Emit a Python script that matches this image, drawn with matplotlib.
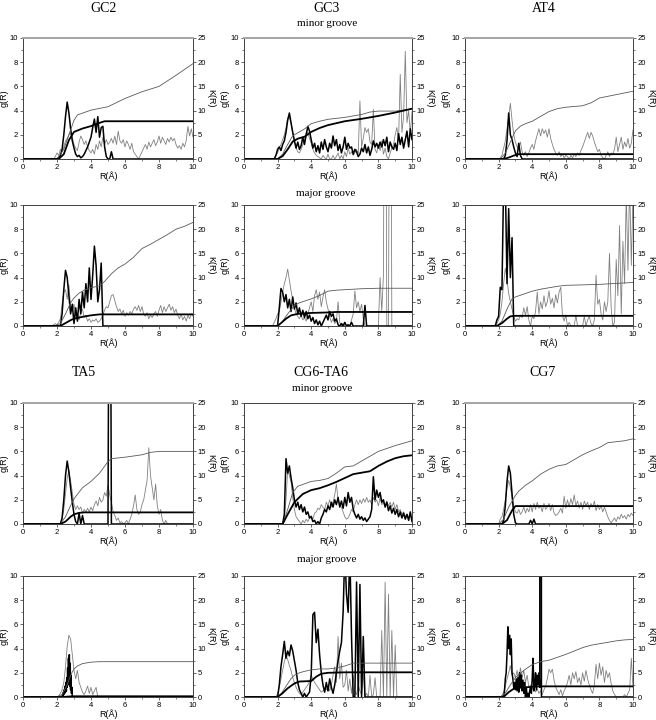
import numpy as np
import matplotlib
matplotlib.use('Agg')
import matplotlib.pyplot as plt
from matplotlib.ticker import MultipleLocator

plt.rcParams['font.family'] = ['Liberation Sans', 'DejaVu Sans']

#--------------------------------- data ---------------------------------------
# g(R) curves: (first R, step, values) ; K(R) curves: (R list, K list)

# GC2 minor groove
gc2_min_gb = (2.0, 0.1, [0, 0.1, 0.3, 0.8, 2.0, 3.5, 4.7, 3.8, 2.5, 1.5,
                         0.9, 0.4, 0.2, 0.3, 0.1, 0.2, 0.4, 0.7, 1.0, 1.4,
                         1.8, 2.6, 3.3, 2.2, 3.5, 1.8, 2.6, 2.7, 1.0, 0.2,
                         0, 0, 0.6, 0])
gc2_min_gg = (1.8, 0.1, [0, 0.2, 0.5, 0.3, 0.8, 0.6, 1.0, 1.5, 1.7, 2.0,
                         2.1, 1.8, 1.2, 0.9, 0.7, 1.4, 1.9, 1.6, 1.2, 1.5,
                         1.0, 0.7, 0.5, 0.8, 0.4, 1.2, 0.8, 1.5, 1.0, 1.8,
                         1.2, 1.6, 1.2, 1.4, 1.7, 1.3, 1.9, 1.2, 2.3, 1.5,
                         1.3, 1.6, 1.0, 1.5, 1.2, 0.8, 1.3, 0.6, 0.4, 0.2,
                         0.0, 0.3, 0.6, 0.9, 1.2, 0.8, 1.4, 1.0, 1.3, 1.6,
                         1.1, 1.4, 1.9, 1.3, 1.8, 1.5, 1.2, 1.7, 1.4, 1.8,
                         1.5, 1.7, 1.2, 0.9, 1.1, 0.8, 1.3, 1.0, 1.5, 2.7,
                         1.9, 2.5, 1.8])
gc2_min_kb = ([2.1, 2.4, 2.7, 3.0, 3.5, 4.0, 4.4, 4.8, 10.0],
              [0, 1.0, 3.9, 5.6, 6.3, 6.8, 7.35, 7.8, 7.8])
gc2_min_kg = ([2.0, 2.4, 2.7, 3.0, 3.2, 4.0, 5.0, 6.0, 7.0, 8.0, 9.0, 10.0],
              [0, 2.0, 5.0, 8.0, 9.1, 10.1, 10.8, 12.5, 13.9, 15.0, 17.3, 19.7])

# GC3 minor groove
gc3_min_gb = (1.8, 0.1, [0, 0.3, 0.8, 1.0, 0.7, 1.2, 1.5, 2.2, 3.2, 3.8,
                         3.0, 2.2, 1.5, 0.9, 1.4, 0.8, 1.1, 1.8, 1.2, 2.0,
                         2.7, 2.3, 1.6, 0.9, 1.3, 0.6, 1.1, 0.5, 1.4, 0.8,
                         1.6, 1.0, 0.6, 1.3, 0.9, 1.9, 1.1, 1.6, 0.7, 1.2,
                         0.5, 1.0, 1.8, 0.8, 1.3, 0.9, 1.0, 0.4, 0.8, 0.6,
                         0.2, 0.4, 0.9, 0.6, 1.2, 0.5, 1.0, 0.3, 0.8, 1.5,
                         1.0, 1.3, 0.9, 1.4, 1.0, 1.6, 1.1, 1.8, 0.6, 1.4,
                         1.0, 0.8, 1.3, 0.7, 2.1, 1.2, 1.8, 0.9, 1.6, 2.3,
                         1.0, 2.5, 1.6])
gc3_min_gg = (1.8, 0.1, [0, 0.3, 0.5, 0.9, 1.2, 1.6, 2.0, 2.6, 3.4, 3.5,
                         2.9, 2.2, 1.5, 0.9, 0.6, 0.5, 0.8, 1.2, 1.6, 2.1,
                         2.2, 1.7, 1.3, 0.8, 0.5, 0.3, 0.2, 0.1, 0.0, 0.3,
                         0.1, 0.0, 0.4, 0.0, 0.0, 0.3, 0.0, 0.2, 0.5, 0.0,
                         0.3, 0.0, 0.6, 0.2, 0.9, 0.4, 0.6, 0.3, 0.5, 0.8,
                         0.4, 4.8, 1.0, 1.7, 2.6, 2.2, 2.5, 1.4, 1.2, 4.1,
                         0.8, 0.5, 1.2, 0.7, 1.5, 0.4, 0.9, 0.2, 0.0, 0.5,
                         0.9, 1.2, 2.0, 2.6, 1.5, 7.0, 2.2, 3.5, 8.9, 3.0,
                         4.0, 2.1, 3.9])
gc3_min_kb = ([2.0, 2.3, 2.6, 2.9, 3.2, 3.6, 4.0, 4.5, 5.0, 6.0, 7.0, 8.0, 9.0, 10.0],
              [0, 0.6, 2.0, 3.6, 4.2, 4.6, 5.6, 6.4, 7.0, 7.8, 8.3, 8.9, 9.6, 10.4])
gc3_min_kg = ([2.0, 2.3, 2.6, 2.9, 3.2, 3.6, 4.0, 4.5, 5.0, 6.0, 7.0, 7.5, 8.0, 9.0, 10.0],
              [0, 1.0, 3.0, 4.8, 5.4, 6.2, 7.3, 7.8, 8.2, 8.6, 9.2, 9.7, 9.9, 9.9, 10.3])

# AT4 minor groove
at4_min_gb = (2.3, 0.1, [0, 0.3, 1.5, 3.8, 2.0, 1.6, 1.0, 0.5, 0.2, 1.3, 0.3, 0])
at4_min_gg = (2.0, 0.1, [0, 0.1, 0.3, 0.9, 1.5, 2.5, 3.5, 4.6, 3.2, 2.0,
                         1.4, 1.0, 0.9, 1.4, 0.6, 0.3, 0.6, 0.2, 0.5, 0.9,
                         1.2, 0.8, 1.5, 2.0, 2.5, 1.9, 2.5, 2.1, 2.4, 1.8,
                         2.5, 1.7, 1.2, 0.8, 0.5, 0.3, 0.6, 0.2, 0.4, 0.1,
                         0.3, 0.2, 0.0, 0.3, 0.1, 0.4, 0.2, 0.5, 0.3, 0.7,
                         1.0, 1.4, 1.8, 2.2, 1.7, 2.2, 1.9, 1.4, 1.0, 0.6,
                         0.8, 0.3, 0.1, 0.0, 0.3, 0.6, 0.2, 0.5, 0.4, 0.8,
                         1.8, 0.6, 1.2, 1.8, 0.8, 1.4, 1.0, 1.7, 0.9, 1.3,
                         2.4])
at4_min_kb = ([2.3, 2.6, 2.9, 3.2, 10.0], [0, 0.3, 0.7, 1.0, 1.0])
at4_min_kg = ([2.1, 2.4, 2.7, 3.0, 3.3, 3.6, 4.0, 4.5, 5.0, 5.5, 6.0, 7.0, 7.5, 8.0, 9.0, 10.0],
              [0, 1.2, 3.5, 5.8, 6.8, 7.3, 7.8, 8.8, 9.8, 10.4, 10.7, 11.0, 11.6, 12.6, 13.3, 14.0])

# GC2 major groove
gc2_maj_gb = (2.2, 0.1, [0, 1.0, 3.0, 4.6, 4.0, 2.5, 1.0, 1.8, 0.2, 1.5,
                         0.4, 2.2, 1.0, 2.8, 1.5, 3.5, 2.0, 4.8, 2.2, 4.2,
                         6.6, 5.0, 2.0, 3.0, 5.2, 0.0])
gc2_maj_gg = (1.7, 0.1, [0, 0.1, 0.2, 0.1, 0.3, 0.6, 1.8, 2.8, 3.0, 2.2,
                         3.4, 1.6, 1.2, 1.8, 0.8, 1.0, 0.5, 1.2, 1.4, 0.7,
                         0.9, 0.4, 0.6, 0.3, 0.5, 0.4, 0.6, 0.3, 0.4, 0.6,
                         0.9, 1.3, 1.6, 1.5, 2.0, 2.5, 2.6, 2.1, 1.6, 1.2,
                         1.4, 1.0, 1.3, 0.8, 1.1, 0.9, 1.2, 1.0, 1.4, 1.6,
                         1.3, 1.7, 1.2, 1.6, 1.0, 0.8, 1.1, 0.6, 0.9, 0.7,
                         1.0, 1.2, 0.8, 1.3, 1.7, 1.1, 1.6, 1.2, 1.5, 1.8,
                         1.3, 1.6, 1.1, 1.4, 0.9, 0.6, 1.0, 0.5, 0.8, 0.4,
                         0.9, 0.6, 1.0, 0.8])
gc2_maj_kb = ([2.2, 2.5, 2.8, 3.0, 3.5, 4.0, 4.5, 10.0], [0, 0.6, 1.2, 1.5, 1.9, 2.2, 2.4, 2.4])
gc2_maj_kg = ([1.8, 2.2, 2.5, 2.8, 3.0, 3.3, 3.6, 4.0, 4.5, 4.8, 5.2, 5.6, 6.0, 6.5, 7.0,
               7.5, 8.0, 8.5, 9.0, 9.5, 10.0],
              [0, 0.5, 2.5, 4.8, 5.8, 6.8, 7.4, 7.9, 8.3, 9.2, 10.8, 12.0, 12.8, 14.2, 16.0,
               16.9, 17.9, 18.9, 20.0, 20.6, 21.4])

# GC3 major groove
gc3_maj_gb = (2.0, 0.1, [0, 1.5, 3.1, 2.8, 2.0, 2.6, 1.5, 2.2, 1.2, 2.4,
                         1.4, 1.9, 1.0, 1.5, 0.8, 1.3, 0.7, 1.2, 0.6, 0.9,
                         0.4, 0.7, 0.2, 0.5, 0.1, 0.4, 0.0, 0.3, 0.6, 0.9,
                         0.5, 1.2, 0.8, 1.0, 0.4, 0.6, 0.1, 0.0, 0.2, 0.0,
                         0.3, 0.0, 0.1, 0.0, 0.3, 0.0, 0.0, 0.0, 0.0, 0.0,
                         0.0, 0.0, 1.7, 0.0])
gc3_maj_gg = (1.7, 0.1, [0, 0.3, 0.6, 1.0, 1.2, 2.0, 2.8, 3.5, 4.0, 4.7,
                         3.8, 2.9, 2.2, 1.5, 1.0, 0.8, 0.6, 0.9, 0.5, 0.7,
                         0.4, 1.0, 1.5, 2.0, 1.2, 2.5, 3.0, 2.2, 2.8, 1.6,
                         2.4, 3.0, 2.0, 1.4, 0.8, 0.3, 0.6, 0.2, 0.4, 2.0,
                         0.3, 0.0, 0.2, 0.0, 0.0, 0.1, 0.0, 0.5, 1.0, 2.9,
                         1.5, 2.0, 1.2, 1.8, 0.6, 0.0, 0.0, 0.0, 0.0, 0.0,
                         0.0, 0.0, 0.0, 0.0, 4.0, 1.2, 4.2, 40.0, 0.0, 0.0,
                         40.0, 0.0])
gc3_maj_kb = ([2.0, 2.2, 2.5, 2.8, 3.2, 3.6, 4.0, 5.0, 5.5, 10.0],
              [0, 0.6, 1.5, 2.2, 2.5, 2.6, 2.7, 2.8, 2.9, 2.9])
gc3_maj_kg = ([1.8, 2.2, 2.6, 3.0, 3.3, 4.0, 4.5, 5.0, 5.5, 6.0, 7.0, 8.0, 10.0],
              [0, 0.5, 2.5, 4.2, 4.8, 5.6, 6.3, 7.2, 7.4, 7.5, 7.7, 7.8, 7.8])

# AT4 major groove
at4_maj_gb = (1.8, 0.1, [0, 0.5, 0.8, 3.2, 3.0, 12.0, 12.0, 3.5, 9.7, 4.0, 7.3, 0.0])
at4_maj_gg = (1.8, 0.1, [0, 0.2, 0.5, 1.0, 2.0, 3.5, 4.8, 3.8, 2.7, 2.0,
                         1.4, 0.8, 0.4, 0.6, 0.5, 0.9, 0.7, 1.5, 0.9, 1.6,
                         0.5, 0.0, 0.8, 0.6, 1.2, 2.8, 1.0, 2.0, 1.4, 2.5,
                         1.6, 2.0, 2.9, 1.8, 2.3, 1.5, 2.6, 1.9, 2.8, 3.2,
                         0.9, 0.4, 0.9, 0.0, 0.3, 0.0, 0.0, 0.0, 0.9, 0.0,
                         0.0, 0.0, 0.0, 0.8, 0.0, 0.5, 0.8, 0.2, 0.0, 0.5,
                         4.2, 1.8, 2.2, 1.0, 0.5, 2.0, 1.2, 2.0, 6.0, 1.5,
                         0.0, 0.3, 5.5, 2.5, 8.3, 1.0, 7.0, 3.5, 11.0, 4.6,
                         12.0, 5.0, 11.0])
at4_maj_kb = ([1.9, 2.2, 2.5, 2.7, 3.0, 10.0], [0, 0.6, 1.5, 2.0, 2.1, 2.1])
at4_maj_kg = ([1.9, 2.2, 2.5, 2.8, 3.0, 3.5, 4.0, 4.5, 5.0, 5.5, 6.0, 7.0, 8.0, 9.0, 10.0],
              [0, 1.0, 3.5, 5.6, 6.0, 6.6, 7.2, 7.6, 7.9, 8.2, 8.4, 8.5, 8.6, 8.8, 9.0])

# TA5 minor groove
ta5_min_gb = (2.2, 0.1, [0, 0.5, 2.0, 4.0, 5.2, 4.3, 3.0, 1.8, 0.8, 0.2,
                         0.0, 0.9, 0.0, 0.7, 0.0, 0.0, 0.0, 0.0, 0.0, 0.0,
                         0.0, 0.0, 0.0, 0.0, 0.0, 0.0, 0.0, 0.0, 0.0, 40.0,
                         0.0])
ta5_min_gg = (2.2, 0.1, [0, 0.4, 1.2, 2.5, 3.8, 4.4, 3.6, 2.6, 1.6, 1.2,
                         1.5, 1.2, 1.4, 0.9, 1.2, 1.0, 1.3, 1.0, 1.4, 1.1,
                         1.6, 1.9, 1.5, 2.2, 1.8, 2.0, 2.6, 2.3, 3.2, 2.4,
                         1.8, 1.0, 0.7, 0.3, 0.5, 0.1, 0.2, 0.0, 0.1, 0.3,
                         0.0, 0.4, 0.8, 1.5, 2.4, 1.2, 0.8, 1.0, 1.6, 2.0,
                         2.8, 3.6, 6.3, 4.0, 3.0, 2.0, 3.3, 1.5, 0.8, 1.2,
                         0.3, 0.0, 0.3, 0.0])
ta5_min_kb = ([2.2, 2.5, 2.8, 3.0, 3.3, 3.6, 10.0], [0, 0.5, 1.5, 2.0, 2.3, 2.4, 2.4])
ta5_min_kg = ([2.2, 2.5, 2.8, 3.0, 3.5, 4.0, 4.5, 5.0, 5.2, 6.0, 7.0, 7.5, 8.0, 10.0],
              [0, 1.5, 3.8, 5.2, 7.5, 8.8, 10.5, 12.9, 13.5, 13.8, 14.3, 14.8, 15.0, 15.0])

# CG6-TA6 minor groove
cg6_min_gb = (2.3, 0.1, [0.0, 0.8, 5.4, 4.2, 4.8, 3.8, 3.0, 2.0, 1.4, 1.8,
                         1.2, 1.6, 1.0, 1.4, 0.8, 1.0, 0.5, 0.6, 0.2, 0.3,
                         0.0, 0.2, 0.0, 0.5, 0.8, 1.2, 1.0, 1.5, 1.2, 1.8,
                         1.4, 2.0, 1.6, 2.2, 1.4, 1.9, 1.3, 2.2, 1.5, 2.6,
                         1.8, 2.2, 1.2, 0.8, 0.5, 0.8, 0.4, 0.6, 0.3, 0.5,
                         0.2, 0.4, 0.6, 1.2, 3.9, 2.0, 2.8, 2.2, 2.6, 1.8,
                         2.0, 1.4, 1.8, 1.1, 1.5, 0.9, 1.3, 0.8, 1.2, 0.6,
                         1.0, 0.5, 0.9, 0.4, 0.8, 0.3, 1.0, 0.2])
cg6_min_gg = (2.3, 0.1, [0, 0.5, 2.0, 4.5, 4.0, 3.5, 2.2, 1.2, 0.6, 0.4,
                         0.2, 0.0, 0.3, 0.1, 0.4, 0.2, 0.5, 0.7, 0.4, 0.9,
                         1.0, 1.3, 1.2, 1.6, 1.4, 1.2, 1.8, 1.5, 2.0, 1.4,
                         1.8, 2.4, 3.3, 2.0, 1.6, 1.4, 1.0, 0.6, 0.4, 0.5,
                         0.8, 1.2, 1.0, 1.6, 2.0, 1.6, 2.0, 1.7, 2.1, 1.8,
                         2.2, 1.8, 2.0, 1.6, 2.2, 1.8, 2.0, 1.5, 2.2, 1.6,
                         1.8, 1.4, 1.9, 1.5, 1.8, 1.4, 1.8, 1.2, 1.6, 1.0,
                         1.2, 0.8, 1.0, 0.6, 0.8, 0.5, 0.7, 0.4])
cg6_min_kb = ([2.3, 2.6, 3.0, 3.5, 4.0, 4.5, 5.0, 5.5, 6.0, 6.5, 7.0, 7.5, 8.0, 8.5, 9.0, 9.5, 10.0],
              [0, 2.0, 4.5, 6.2, 7.0, 7.4, 8.0, 8.7, 9.5, 10.3, 10.6, 10.9, 12.0, 12.9, 13.6, 14.0, 14.2])
cg6_min_kg = ([2.3, 2.6, 2.9, 3.2, 3.6, 4.0, 4.5, 5.0, 5.5, 6.0, 6.5, 7.0, 7.5, 8.0, 8.5, 9.0, 9.5, 10.0],
              [0, 3.0, 6.5, 7.8, 8.3, 8.8, 9.0, 9.4, 10.5, 11.8, 12.0, 13.0, 14.0, 15.0, 15.6, 16.2, 16.7, 17.2])

# CG7 minor groove
cg7_min_gb = (2.2, 0.1, [0, 0.3, 1.5, 3.5, 4.8, 4.2, 2.5, 0.8, 0.1, 0.0,
                         0.0, 0.0, 0.0, 0.0, 0.0, 0.0, 0.0, 0.3, 0.0, 0.4,
                         0.0])
cg7_min_gg = (2.0, 0.1, [0, 0.4, 0.6, 1.2, 2.0, 3.0, 3.6, 3.0, 2.2, 1.5,
                         1.0, 0.9, 1.2, 0.8, 1.0, 1.4, 0.9, 1.3, 1.0, 1.6,
                         1.0, 1.7, 1.2, 1.8, 1.3, 1.5, 1.0, 1.7, 1.2, 1.4,
                         1.7, 1.1, 1.6, 0.9, 0.7, 0.8, 1.0, 1.3, 0.9, 2.3,
                         1.3, 2.0, 1.4, 2.1, 1.6, 2.4, 1.5, 1.9, 1.3, 1.8,
                         1.2, 1.9, 1.5, 1.8, 1.2, 1.7, 1.4, 1.9, 1.1, 1.6,
                         1.2, 1.5, 1.0, 1.4, 1.0, 0.6, 0.3, 0.1, 0.3, 0.5,
                         0.2, 0.6, 0.4, 0.8, 0.5, 0.7, 0.4, 0.8, 0.6, 0.9,
                         0.7])
cg7_min_kb = ([2.2, 2.5, 2.8, 3.0, 10.0], [0, 0.8, 2.8, 3.7, 3.7])
cg7_min_kg = ([2.0, 2.3, 2.6, 3.0, 3.2, 3.6, 4.0, 4.5, 5.0, 5.5, 6.0, 6.5, 7.0, 7.5, 8.0, 8.5, 9.0, 9.5, 10.0],
              [0, 1.0, 3.5, 5.9, 6.8, 8.0, 8.9, 10.3, 11.3, 12.0, 12.3, 13.3, 14.3, 15.1, 15.8, 16.8, 17.0, 17.2, 17.6])

# TA5 major groove
ta5_maj_gb = (2.3, 0.025, [0, 0.2, 0.1, 0.4, 0.2, 0.6, 0.3, 0.9, 0.4, 1.2,
                           0.5, 1.6, 0.8, 2.4, 1.0, 3.2, 1.2, 3.5, 0.9, 2.8,
                           0.6, 1.8, 0.3, 0.8, 0.0])
ta5_maj_gg = (2.0, 0.1, [0, 0.1, 0.3, 0.6, 1.2, 2.5, 4.2, 5.1, 4.8, 3.5,
                         2.2, 1.5, 2.2, 1.2, 0.8, 0.4, 0.2, 0.5, 0.9, 0.3,
                         0.8, 0.2, 0.5, 0.8, 0.0])
ta5_maj_kb = ([2.3, 2.9, 10.0], [0, 0.15, 0.15])
ta5_maj_kg = ([2.0, 2.3, 2.6, 2.8, 3.0, 3.2, 3.5, 4.0, 4.5, 10.0],
              [0, 0.5, 2.5, 4.5, 5.8, 6.4, 6.9, 7.2, 7.3, 7.3])

# CG6-TA6 major groove
cg6_maj_gb = (2.0, 0.1, [0, 1.0, 2.5, 3.5, 4.6, 3.2, 3.8, 3.4, 4.3, 3.8,
                         3.0, 2.2, 1.2, 0.6, 0.3, 0.0, 0.3, 0.0, 0.2, 0.4,
                         1.8, 6.8, 7.0, 4.5, 5.6, 3.5, 2.0, 1.0, 0.4, 1.2,
                         0.5, 1.5, 0.8, 0.3, 1.0, 2.0, 3.0, 3.8, 4.5, 7.0,
                         12.0, 8.5, 7.0, 12.0, 5.0, 0.0, 0.0, 9.5, 0.0, 9.3,
                         0.0, 5.0, 0.0])
cg6_maj_gg = (1.9, 0.1, [0, 0.3, 0.8, 1.5, 2.2, 2.9, 3.4, 3.1, 2.6, 2.2,
                         1.6, 1.2, 0.8, 0.5, 0.3, 0.2, 0.4, 0.6, 0.8, 1.0,
                         1.3, 1.8, 1.5, 1.2, 1.0, 0.8, 0.6, 0.4, 0.5, 0.7,
                         0.6, 0.9, 0.5, 1.0, 1.8, 2.5, 1.2, 5.0, 1.5, 2.8,
                         0.8, 1.0, 2.2, 0.5, 1.5, 0.3, 1.8, 0.4, 0.2, 1.0,
                         0.5, 0.2, 2.0, 0.0, 0.3, 0.0, 1.8, 0.0, 0.2, 1.6,
                         0.0, 0.0, 0.0, 5.5, 0.0, 9.5, 0.0, 8.5, 0.0, 5.5,
                         0.0, 4.3, 0.0])
cg6_maj_kb = ([2.0, 2.3, 2.6, 3.0, 3.3, 4.0, 4.3, 4.6, 5.0, 6.0, 10.0],
              [0, 0.8, 1.8, 2.8, 3.2, 3.3, 4.2, 4.8, 5.0, 5.1, 5.1])
cg6_maj_kg = ([1.9, 2.2, 2.5, 2.8, 3.0, 3.3, 3.6, 4.0, 4.5, 5.0, 5.5, 6.0, 6.5, 10.0],
              [0, 0.6, 2.2, 3.8, 4.5, 5.0, 5.3, 5.6, 5.8, 5.8, 6.0, 6.4, 7.0, 7.0])

# CG7 major groove
cg7_maj_gb = (2.3, 0.05, [0, 0.5, 1.5, 2.0, 3.5, 5.8, 4.0, 5.1, 3.5, 4.8,
                          2.0, 1.5, 0.8, 1.2, 0.6, 1.5, 0.5, 1.6, 0.4, 2.0,
                          0.8, 1.8, 0.5, 1.4, 0.3, 1.2, 0.0, 0.8, 0.0, 0.3,
                          0.0, 0.5, 0.8, 0.3, 1.5, 3.2, 0.5, 1.0, 2.0, 0.6,
                          1.8, 1.0, 2.0, 0.8, 200.0, 0.0])
cg7_maj_gg = (2.1, 0.1, [0, 0.1, 0.4, 0.9, 1.5, 2.0, 2.6, 1.8, 2.0, 1.6,
                         2.2, 1.4, 2.4, 1.6, 2.2, 1.2, 1.8, 0.8, 1.0, 0.6,
                         0.9, 0.4, 0.7, 0.3, 0.5, 0.2, 0.6, 0.9, 1.5, 2.3,
                         2.0, 2.3, 1.4, 0.8, 0.5, 0.2, 0.6, 0.1, 0.5, 0.8,
                         1.2, 1.8, 1.0, 2.0, 1.5, 2.1, 1.2, 1.6, 1.0, 2.0,
                         1.3, 2.2, 1.5, 1.0, 0.6, 0.3, 1.0, 2.7, 1.5, 2.8,
                         1.8, 2.5, 1.2, 2.2, 1.6, 2.0, 1.1, 0.5, 0.2, 0.0,
                         0.0, 0.0, 0.0, 0.0, 0.2, 0.0, 0.3, 0.6, 3.2, 0.8])
cg7_maj_kb = ([2.3, 2.6, 2.9, 3.2, 3.6, 4.0, 4.5, 10.0], [0, 1.0, 1.7, 1.9, 2.0, 2.1, 2.2, 2.2])
cg7_maj_kg = ([2.1, 2.4, 2.7, 3.0, 3.5, 4.0, 4.5, 5.0, 5.5, 6.0, 6.5, 7.0, 7.5, 8.0, 8.5, 9.0, 9.5, 10.0],
              [0, 0.8, 2.5, 4.0, 5.5, 6.7, 7.3, 7.6, 8.2, 8.8, 9.5, 10.2, 10.7, 11.0, 11.3, 11.6, 11.8, 11.9])

col_titles = ["GC2", "GC3", "AT4", "TA5", "CG6-TA6", "CG7"]
groove_labels = ["minor groove", "major groove", "minor groove", "major groove"]

#--------------------------------- layout (pixels) ----------------------------
W, H = 656, 720
col_x = [(23, 193), (244, 412), (465, 633)]
row_y = [(38, 159), (205, 326), (403, 524), (576, 697)]
title_xy = [(104, 11.5), (327, 11.5), (544, 11.5), (84, 376.5), (321, 376.5), (542, 376.5)]
groove_xy = [(327, 26), (326, 195.5), (322, 391.5), (327, 561.5)]

panels = [
    [(gc2_min_gb, gc2_min_gg, gc2_min_kb, gc2_min_kg),
     (gc3_min_gb, gc3_min_gg, gc3_min_kb, gc3_min_kg),
     (at4_min_gb, at4_min_gg, at4_min_kb, at4_min_kg)],
    [(gc2_maj_gb, gc2_maj_gg, gc2_maj_kb, gc2_maj_kg),
     (gc3_maj_gb, gc3_maj_gg, gc3_maj_kb, gc3_maj_kg),
     (at4_maj_gb, at4_maj_gg, at4_maj_kb, at4_maj_kg)],
    [(ta5_min_gb, ta5_min_gg, ta5_min_kb, ta5_min_kg),
     (cg6_min_gb, cg6_min_gg, cg6_min_kb, cg6_min_kg),
     (cg7_min_gb, cg7_min_gg, cg7_min_kb, cg7_min_kg)],
    [(ta5_maj_gb, ta5_maj_gg, ta5_maj_kb, ta5_maj_kg),
     (cg6_maj_gb, cg6_maj_gg, cg6_maj_kb, cg6_maj_kg),
     (cg7_maj_gb, cg7_maj_gg, cg7_maj_kb, cg7_maj_kg)],
]
gray_top = [(0, 0), (0, 1), (0, 2), (2, 0), (2, 2)]


def curve(c):
    r0, dr, v = c
    r = r0 + dr * np.arange(len(v))
    v = np.array(v, dtype=float)
    r = np.concatenate([[0.0], r])
    v = np.concatenate([[0.0], v])
    if r[-1] < 10:
        r = np.append(r, 10.0)
        v = np.append(v, 0.0)
    return r, v


def style(ax, ax2):
    for a in (ax, ax2):
        for s in a.spines.values():
            s.set_linewidth(0.6)
            s.set_color('0.25')
        a.tick_params(which='major', direction='out', length=2.5, width=0.6,
                      labelsize=5.5, pad=1, color='0.3')
        a.tick_params(which='minor', direction='out', length=1.3, width=0.5, color='0.3')
    ax.set_xlim(0, 10)
    ax.set_ylim(0, 10)
    ax2.set_ylim(0, 25)
    ax.xaxis.set_major_locator(MultipleLocator(2))
    ax.xaxis.set_minor_locator(MultipleLocator(1))
    ax.yaxis.set_major_locator(MultipleLocator(2))
    ax.yaxis.set_minor_locator(MultipleLocator(1))
    ax2.yaxis.set_major_locator(MultipleLocator(5))
    ax2.yaxis.set_minor_locator(MultipleLocator(2.5))
    ax.set_xlabel('R(Å)', fontsize=6.5, labelpad=0.5)
    ax.set_ylabel('g(R)', fontsize=6.5, labelpad=1)
    ax2.set_ylabel('K(R)', fontsize=6.5, rotation=270, labelpad=6.5)


fig = plt.figure(figsize=(W / 100, H / 100), dpi=100)

for i in range(4):
    for j in range(3):
        x0, x1 = col_x[j]
        y0, y1 = row_y[i]
        ax = fig.add_axes([x0 / W, 1 - y1 / H, (x1 - x0) / W, (y1 - y0) / H])
        ax2 = ax.twinx()
        gb, gg, kb, kg = panels[i][j]
        r, v = curve(gg)
        ax.plot(r, v, color='0.5', lw=0.6)
        r, v = curve(gb)
        ax.plot(r, v, color='k', lw=1.1)
        ax2.plot(kg[0], kg[1], color='0.35', lw=0.6)
        ax2.plot(np.concatenate([[0], kb[0]]), np.concatenate([[0], kb[1]]), color='k', lw=1.3)
        style(ax, ax2)
        if (i, j) in gray_top:
            ax.spines['top'].set_color('0.65')
            ax.spines['top'].set_linewidth(1.4)
            ax2.spines['top'].set_color('0.65')
            ax2.spines['top'].set_linewidth(1.4)

# column titles and groove labels
for name, (tx, ty) in zip(col_titles, title_xy):
    fig.text(tx / W, 1 - ty / H, name, ha='center', va='baseline',
             fontsize=10, family='Liberation Serif')
for txt, (tx, ty) in zip(groove_labels, groove_xy):
    fig.text(tx / W, 1 - ty / H, txt, ha='center', va='baseline',
             fontsize=8, family='Liberation Serif')

fig.savefig('out.png', dpi=100)
